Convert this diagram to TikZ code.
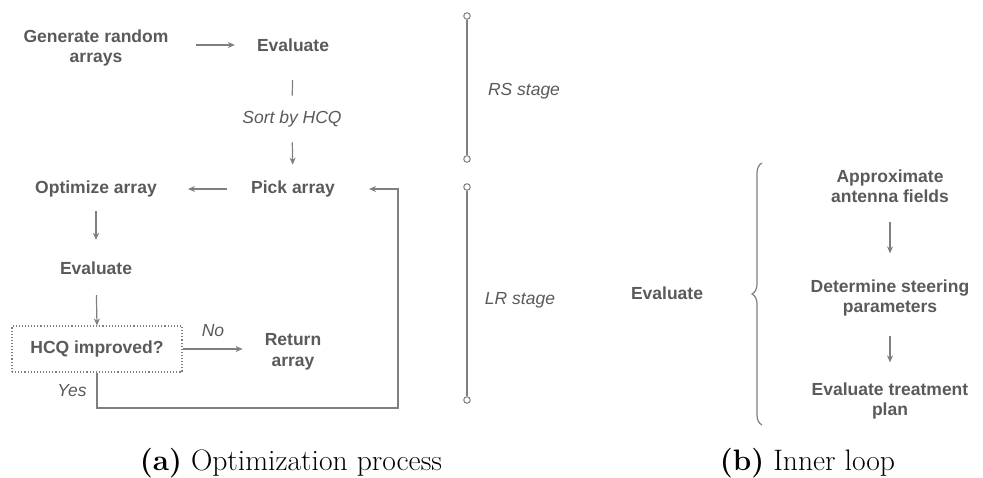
\documentclass[tikz,border=0pt]{standalone}
\usepackage{fontspec}
\newfontfamily\diagfont{Liberation Sans}
\usetikzlibrary{arrows.meta,decorations.pathreplacing,calc}
\definecolor{txtgray}{HTML}{5A5A5A}
\definecolor{linegray}{HTML}{7F7F7F}
\tikzset{
  lbl/.style={font=\diagfont\bfseries\fontsize{17.5}{20.5}\selectfont, text=txtgray, align=center, inner sep=0pt},
  itl/.style={font=\diagfont\itshape\fontsize{17.5}{20.5}\selectfont, text=txtgray, inner sep=0pt},
  conn/.style={draw=linegray, line width=1.2pt},
  arr/.style={conn, -{Stealth[length=7pt,width=6pt]}},
  enddot/.style={circle, draw=linegray, line width=1pt, fill=white, minimum size=6.5pt, inner sep=0pt},
  dotbox/.style={lbl, draw=linegray, dotted, line width=1.1pt, minimum width=170pt, minimum height=46pt},
  captxt/.style={font=\fontsize{29.6}{35}\selectfont, inner sep=0pt, anchor=base}
}
\begin{document}
\begin{tikzpicture}[x=1pt,y=-1pt]
\useasboundingbox (0,0) rectangle (983,478);
% left flow
\node[lbl] (gen) at (96,48) {Generate random\\arrays};
\node[lbl] (eval1) at (293,45) {Evaluate};
\node[itl] (sortlbl) at (292,119) {Sort by HCQ};
\node[lbl] (pick) at (293,189) {Pick array};
\node[lbl] (opt) at (96,189) {Optimize array};
\node[lbl] (eval2) at (96,268) {Evaluate};
\node[dotbox] (hcq) at (97,349) {HCQ improved?};
\node[lbl] (ret) at (293,352) {Return\\array};
\node[itl] (nolbl) at (213,331) {No};
\node[itl] (yeslbl) at (72,391) {Yes};
\coordinate (loopc) at (398,408);

\draw[arr, shorten <=27.5pt, shorten >=22pt] (gen.east |- eval1.west) -- (eval1.west);
\draw[conn, shorten <=28.5pt, shorten >=15pt] (eval1.south) -- (sortlbl.north);
\draw[arr, shorten <=15pt, shorten >=16pt] (sortlbl.south) -- (pick.north);
\draw[arr, shorten <=24pt, shorten >=31pt] (pick.west) -- (opt.east);
\draw[arr, shorten <=14pt, shorten >=21.5pt] (opt.south) -- (eval2.north);
\draw[arr, shorten <=20.5pt] (eval2.south) -- (hcq.north);
\draw[arr, shorten >=22pt] (hcq.east) -- (hcq.east -| ret.west);
\draw[arr, shorten >=34pt] (hcq.south) |- (loopc) |- (pick.east);

% stage markers
\node[enddot] (rs1) at (467,16) {};
\node[enddot] (rs2) at (467,159) {};
\node[enddot] (lr1) at (467,187) {};
\node[enddot] (lr2) at (467,400) {};
\draw[conn] (rs1) -- (rs2);
\draw[conn] (lr1) -- (lr2);
\node[itl] (rslbl) at (524,91) {RS stage};
\node[itl] (lrlbl) at (520,300) {LR stage};

% inner loop
\node[lbl] (eval3) at (667,293) {Evaluate};
\coordinate (brB) at (762,425);
\coordinate (brT) at (762,163);
\draw[conn, decorate, decoration={brace, amplitude=10pt, aspect=0.5}] (brB) -- (brT);
\node[lbl] (approx) at (890,186) {Approximate\\antenna fields};
\node[lbl] (determ) at (890,298) {Determine steering\\parameters};
\node[lbl] (evalt) at (890,401) {Evaluate treatment\\plan};
\draw[arr, shorten <=19.5pt, shorten >=26pt] (approx.south) -- (determ.north);
\draw[arr, shorten <=19.5pt, shorten >=20pt] (determ.south) -- (evalt.north);

% captions
\node[captxt] (capa) at (291,470) {\textbf{(a)} Optimization process};
\node[captxt] (capb) at (807.5,470) {\textbf{(b)} Inner loop};
\end{tikzpicture}
\end{document}
